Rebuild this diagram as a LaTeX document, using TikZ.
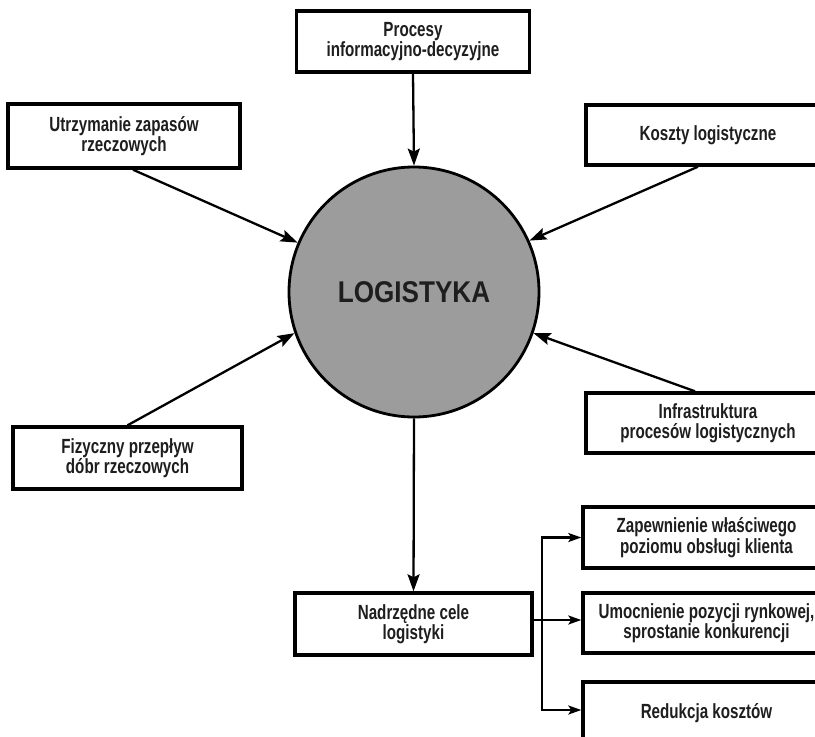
\documentclass[tikz,border=0pt]{standalone}
\usepackage{fontspec}
\newfontfamily\boxfont{Liberation Sans}[FakeStretch=0.74]
\newfontfamily\discfont{Liberation Sans}[FakeStretch=0.87]
\usetikzlibrary{arrows.meta}
\definecolor{discgray}{RGB}{156,156,156}
\definecolor{ink}{RGB}{30,30,30}
\begin{document}
\begin{tikzpicture}[x=1pt,y=-1pt,
  box/.style={draw=black, line width=3.4pt, fill=white, align=center, text=ink,
    font=\boxfont\bfseries\fontsize{20.5}{20.5}\selectfont, inner sep=0pt},
  link/.style={line width=2.3pt, draw=black},
  arr/.style={link, -{Stealth[length=17pt,width=12pt,inset=3pt]}},
  sarr/.style={link, -{Stealth[length=13pt,width=9pt,inset=3pt]}}]
\useasboundingbox (0,0) rectangle (815,737);
\clip (0,0) rectangle (815,737);

% central disc
\node[circle, draw=black, line width=2.8pt, fill=discgray, minimum size=250pt,
  inner sep=0pt, text=ink, font=\discfont\bfseries\fontsize{30}{30}\selectfont] (logi) at (414,292) {LOGISTYKA};

% surrounding areas
\node[box, minimum width=233pt, minimum height=61pt] (proc) at (413,41.5)
  {Procesy\\informacyjno-decyzyjne};
\node[box, minimum width=232pt, minimum height=64pt] (util) at (124,136)
  {Utrzymanie zapasów\\rzeczowych};
\node[box, minimum width=244pt, minimum height=60pt] (koszt) at (708,135)
  {Koszty logistyczne};
\node[box, minimum width=229pt, minimum height=62pt] (fiz) at (127.5,458)
  {Fizyczny przepływ\\dóbr rzeczowych};
\node[box, minimum width=244pt, minimum height=60pt] (infra) at (708,423)
  {Infrastruktura\\procesów logistycznych};

% goals
\node[box, minimum width=237pt, minimum height=62pt] (nadr) at (413.5,624)
  {Nadrzędne cele\\logistyki};
\node[box, minimum width=247pt, minimum height=61pt] (z1) at (706.5,537.5)
  {Zapewnienie właściwego\\poziomu obsługi klienta};
\node[box, minimum width=247pt, minimum height=60pt] (z2) at (706.5,623)
  {Umocnienie pozycji rynkowej,\\sprostanie konkurencji};
\node[box, minimum width=247pt, minimum height=62pt] (z3) at (706.5,713)
  {Redukcja kosztów};

% inputs to the disc
\draw[arr] (proc.south) -- (logi.north);
\draw[arr] ([xshift=9pt]util.south) -- (logi.157);
\draw[arr] ([xshift=-10pt]koszt.south) -- (logi.24);
\draw[arr] (fiz.north) -- (logi.199);
\draw[arr] ([xshift=-13pt]infra.north) -- (logi.341);

% output to goals
\draw[arr] (logi.south) -- (nadr.north);
\coordinate (j) at (542,620);
\draw[link] ([yshift=4pt]nadr.east) -- (j);
\draw[sarr] (j) |- (z1.west);
\draw[sarr] (j) -- (j -| z2.west);
\draw[sarr] (j) |- ([yshift=3pt]z3.west);
\end{tikzpicture}
\end{document}
